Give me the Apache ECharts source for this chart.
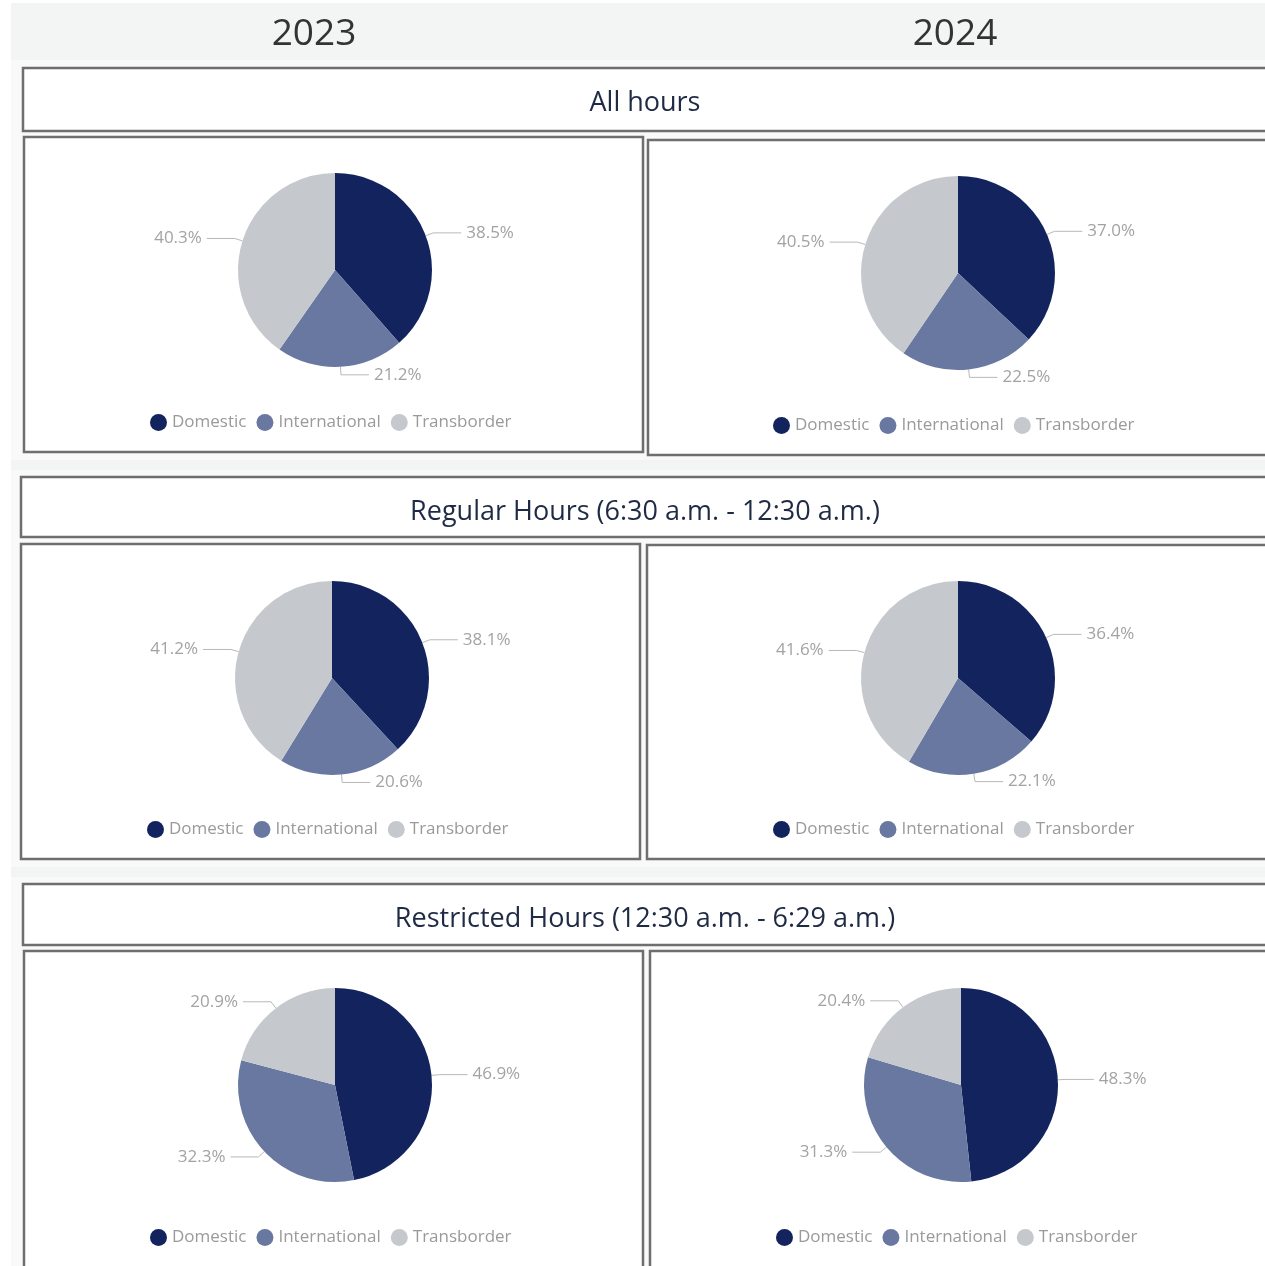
<!DOCTYPE html>
<html>
<head>
<meta charset="utf-8">
<script src="https://cdn.jsdelivr.net/npm/echarts@6/dist/echarts.min.js"></script>
<style>
  html, body { margin: 0; padding: 0; background: #fff; }
  #chart { width: 1265px; height: 1266px; }
</style>
</head>
<body>
<div id="chart"></div>
<script>
// data
const years = ["2023", "2024"];
const sections = [
  "All hours",
  "Regular Hours (6:30 a.m. - 12:30 a.m.)",
  "Restricted Hours (12:30 a.m. - 6:29 a.m.)",
];
const categories = ["Domestic", "International", "Transborder"];
const allHours2023 = [38.5, 21.2, 40.3];
const allHours2024 = [37.0, 22.5, 40.5];
const regular2023 = [38.1, 20.6, 41.2];
const regular2024 = [36.4, 22.1, 41.6];
const restricted2023 = [46.9, 32.3, 20.9];
const restricted2024 = [48.3, 31.3, 20.4];

const colors = ["#12235e", "#6878a0", "#c5c9ce"];
const font = "Open Sans";

// layout of the boxes (x, y, w, h), pie centres, legend tops
const headerBoxes = [
  [23, 68, 1250, 63],
  [21, 477, 1252, 60],
  [23, 884, 1250, 61],
];
const pieBoxes = [
  [24, 137, 619, 315], [648, 140, 625, 315],
  [21, 544, 619, 315], [647, 545, 626, 314],
  [24, 951, 619, 320], [650, 951, 623, 320],
];
const pieCenters = [
  [335, 270], [958, 273],
  [332, 678], [958, 678],
  [335, 1085], [961, 1085],
];
const legendPos = [
  [150, 414], [773, 417],
  [147, 821], [773, 821],
  [150, 1229], [776, 1229],
];
const pieData = [
  allHours2023, allHours2024,
  regular2023, regular2024,
  restricted2023, restricted2024,
];

const chart = echarts.init(document.getElementById("chart"));

function box(b) {
  return {
    type: "rect",
    shape: { x: b[0], y: b[1], width: b[2], height: b[3] },
    style: { fill: "#fff", stroke: "#6e6e6e", lineWidth: 2.5 },
    z: 1,
  };
}

const graphics = [
  // light grey panel behind everything
  { type: "rect", shape: { x: 11, y: 3, width: 1260, height: 1270 },
    style: { fill: "#f3f4f4" }, z: 0 },
  { type: "rect", shape: { x: 11, y: 60, width: 1260, height: 400 },
    style: { fill: "#f9f9f9" }, z: 0 },
  { type: "rect", shape: { x: 11, y: 470, width: 1260, height: 397 },
    style: { fill: "#f9f9f9" }, z: 0 },
  { type: "rect", shape: { x: 11, y: 877, width: 1260, height: 400 },
    style: { fill: "#f9f9f9" }, z: 0 },
];
headerBoxes.forEach((b) => graphics.push(box(b)));
pieBoxes.forEach((b) => graphics.push(box(b)));

const titles = [
  { text: years[0], left: 314, top: 34 },
  { text: years[1], left: 955, top: 34 },
].map((t) => ({
  text: t.text,
  left: t.left,
  top: t.top,
  padding: 0,
  textAlign: "center",
  textVerticalAlign: "middle",
  textStyle: { fontFamily: font, fontSize: 37, fontWeight: "normal", color: "#333" },
}));
[103, 512, 919].forEach((y, i) => {
  titles.push({
    text: sections[i],
    left: 645,
    top: y,
    padding: 0,
    textAlign: "center",
    textVerticalAlign: "middle",
    textStyle: { fontFamily: font, fontSize: 27, fontWeight: "normal", color: "#1f2a44" },
  });
});

const legends = legendPos.map((p) => ({
  left: p[0],
  top: p[1],
  padding: 0,
  icon: "circle",
  itemWidth: 17,
  itemHeight: 17,
  itemGap: 10,
  selectedMode: false,
  data: categories,
  textStyle: { fontFamily: font, fontSize: 17, color: "#9a9a9a" },
}));

const series = pieData.map((vals, i) => ({
  type: "pie",
  radius: 97,
  center: pieCenters[i],
  startAngle: 90,
  clockwise: true,
  z: 3,
  data: categories.map((c, j) => ({
    name: c,
    value: vals[j],
    itemStyle: { color: colors[j] },
  })),
  label: {
    show: true,
    position: "outside",
    formatter: (p) => p.value.toFixed(1) + "%",
    fontFamily: font,
    fontSize: 17,
    color: "#a3a3a3",
  },
  labelLine: {
    show: true,
    length: 8,
    length2: 28,
    lineStyle: { color: "#b8b8b8", width: 1 },
  },
  emphasis: { scale: false },
}));

chart.setOption({
  animation: false,
  graphic: graphics,
  title: titles,
  legend: legends,
  series: series,
});
</script>
</body>
</html>
